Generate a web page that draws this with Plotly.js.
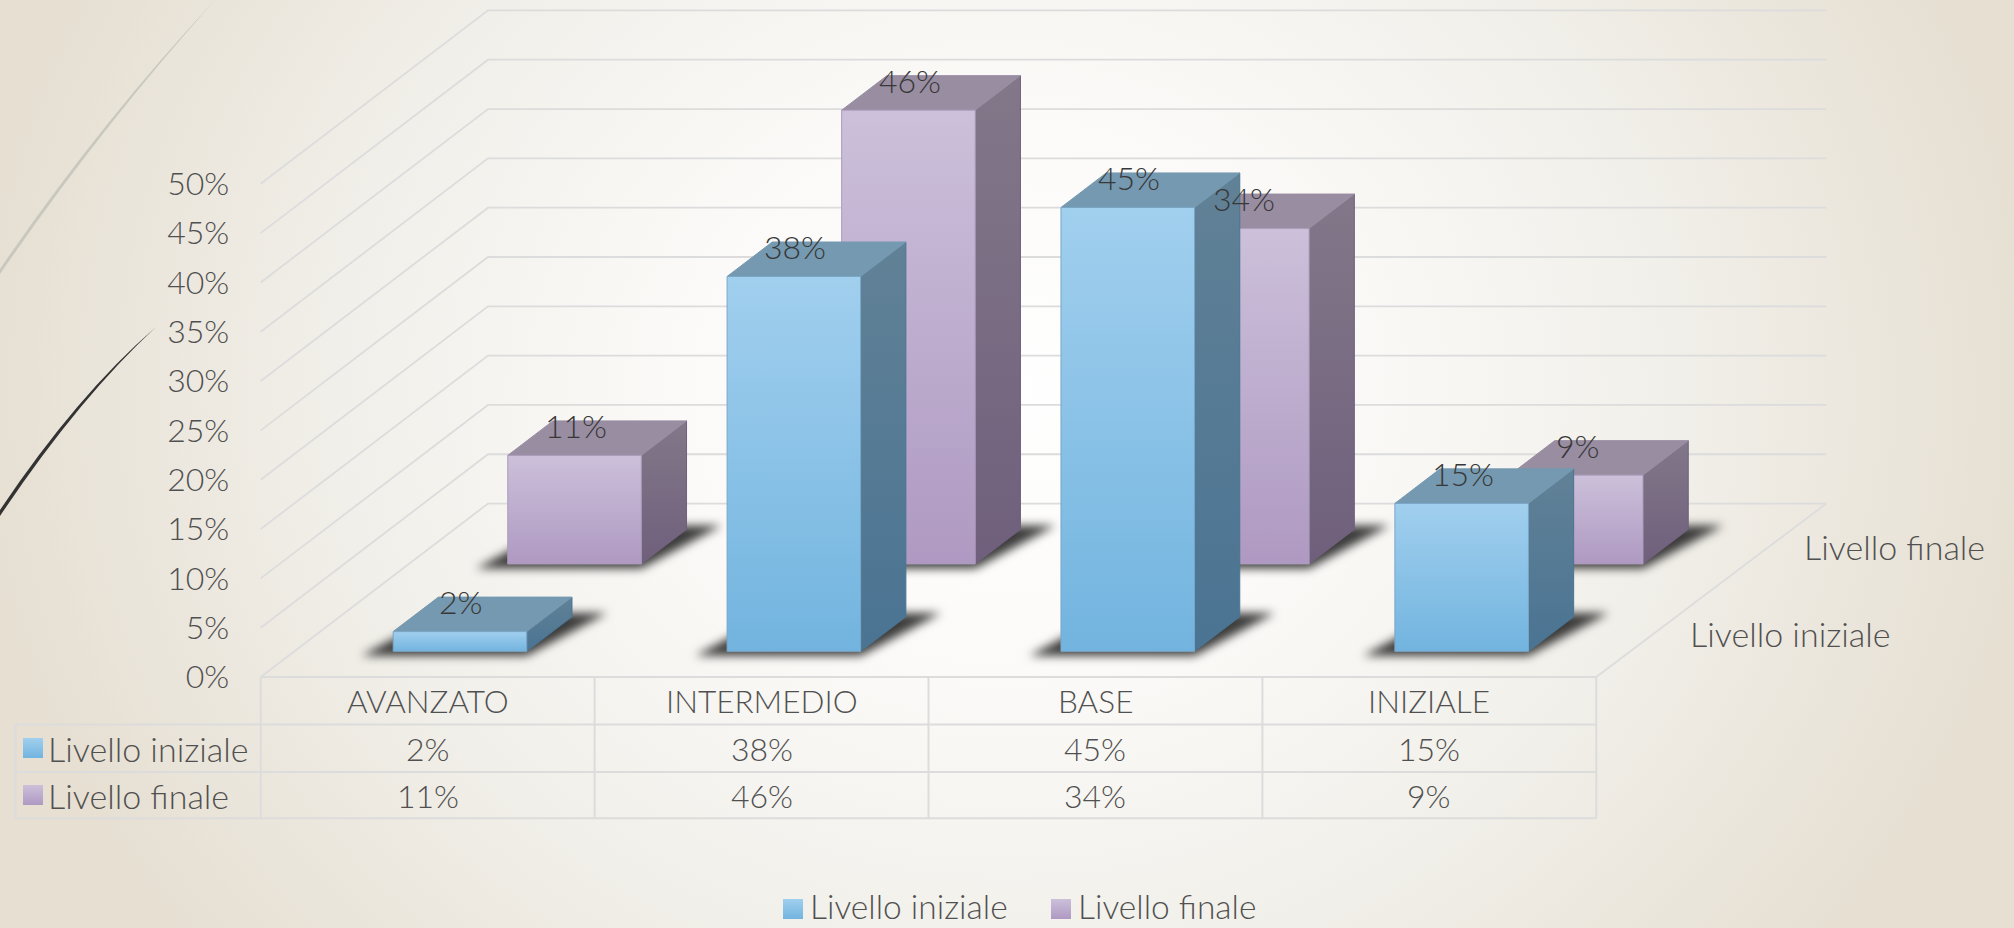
<!DOCTYPE html>
<html><head><meta charset="utf-8">
<script src="https://cdn.plot.ly/plotly-3.0.1.min.js"></script>
<style>
html,body{margin:0;padding:0;width:2014px;height:928px;overflow:hidden;
background:radial-gradient(ellipse 1090px 950px at 50% 42%,#ffffff 0%,#fbfaf8 30%,#f1efe9 62%,#e6dfd2 95%);}
#c{width:2014px;height:928px;}
</style></head><body><div id="c"></div>
<script>
// ---- data ----
const categories = ['AVANZATO','INTERMEDIO','BASE','INIZIALE'];
const seriesNames = ['Livello iniziale','Livello finale'];
const livelloIniziale = [2,38,45,15];
const livelloFinale = [11,46,34,9];
const yTicks = [0,5,10,15,20,25,30,35,40,45,50];

// ---- oblique projection (category units across, percent units up, depth 0..1 into the page) ----
const W=2014,H=928;
const pxPerCat=333.9, pxPerPct=9.864, x0Px=260.7, y0Px=677;
const DX=0.6808, DY=17.58;
const proj=(u,d,v)=>[u+d*DX, v+d*DY];
const FONT='Lato', TXT='#505050', GRID='#dcdcdc';
const traces=[];
function poly(pts){const x=[],y=[];pts.forEach(p=>{x.push(p[0]);y.push(p[1]);});x.push(pts[0][0]);y.push(pts[0][1]);return {x,y};}
function addFace(pts,fill,lineColor,grad){
  const p=poly(pts);
  const t={type:'scatter',mode:'lines',x:p.x,y:p.y,fill:'toself',hoverinfo:'skip',showlegend:false,
    line:{color:lineColor,width:1}};
  if(grad) t.fillgradient={type:'vertical',colorscale:[[0,grad[0]],[1,grad[1]]]};
  else t.fillcolor=fill;
  traces.push(t);
}
// gridlines on the two walls
(function(){
  const gx=[],gy=[];
  yTicks.forEach(v=>{
    const a=proj(0,0,v),b=proj(0,1,v),c=proj(4.008,1,v);
    gx.push(a[0],b[0],c[0],null);gy.push(a[1],b[1],c[1],null);
  });
  const a=proj(4,0,0),b=proj(4.008,1,0);gx.push(a[0],b[0],null);gy.push(a[1],b[1],null);
  traces.push({type:'scatter',mode:'lines',x:gx,y:gy,line:{color:GRID,width:1.8},hoverinfo:'skip',showlegend:false});
})();
// data table lines
const rowY=[0,-4.82,-9.63,-14.32], tableLeft=-0.7346;
(function(){
  const tx=[],ty=[];
  rowY.forEach((y,i)=>{tx.push(i==0?0:tableLeft,4,null);ty.push(y,y,null);});
  [0,1,2,3,4].forEach(u=>{tx.push(u,u,null);ty.push(rowY[0],rowY[3],null);});
  tx.push(tableLeft,tableLeft,null);ty.push(rowY[1],rowY[3],null);
  traces.push({type:'scatter',mode:'lines',x:tx,y:ty,line:{color:GRID,width:2},hoverinfo:'skip',showlegend:false});
})();
// bar geometry
const barL=0.296, barW=0.4;
const rowsD=[[0.148,0.347],[0.652,0.851]];
const values=[livelloIniziale,livelloFinale];
const palette=[
 {front:['#72b4df','#a1cfee'],side:['#4a7493','#618196'],top:'#7599b0',edge:'#7aa6c6'},
 {front:['#af99c2','#ccc0da'],side:['#6f5f7c','#827889'],top:'#998da2',edge:'#ab9dbb'}
];
// soft contact shadows: one footprint polygon per bar, blurred after drawing
const shadowIndex=traces.length;
(function(){
  const sx=[],sy=[];
  values.forEach((vals,s)=>{
    const [d0,d1]=rowsD[s];
    vals.forEach((_,i)=>{
      const u0=i+barL,u1=u0+barW;
      const off=-0.095, back=0.105, lift=-0.45, rise=0.4;
      const A=proj(u0,d0,lift),B=proj(u1,d0,lift),C=proj(u1,d1,rise),D=proj(u0,d1,rise);
      const pts=[[A[0]+off,A[1]],[B[0],B[1]],[C[0]+back,C[1]],[D[0]+off+back,D[1]]];
      pts.push(pts[0]);
      pts.forEach(p=>{sx.push(p[0]);sy.push(p[1]);});
      sx.push(null);sy.push(null);
    });
  });
  traces.push({type:'scatter',mode:'lines',x:sx,y:sy,fill:'toself',fillcolor:'rgba(40,40,40,0.9)',
    line:{width:0,color:'rgba(0,0,0,0)'},hoverinfo:'skip',showlegend:false});
})();
// bars, back row first
[1,0].forEach(s=>{
  const [d0,d1]=rowsD[s],c=palette[s];
  values[s].forEach((v,i)=>{
    const u0=i+barL,u1=u0+barW;
    addFace([proj(u1,d0,0),proj(u1,d1,0),proj(u1,d1,v),proj(u1,d0,v)],null,c.side[0],c.side);
    addFace([proj(u0,d0,v),proj(u1,d0,v),proj(u1,d1,v),proj(u0,d1,v)],c.top,c.top);
    addFace([proj(u0,d0,0),proj(u1,d0,0),proj(u1,d0,v),proj(u0,d0,v)],null,c.edge,c.front);
  });
});
// legend / table swatches
function swatch(cu,cy,wu,hy,s){
  addFace([[cu-wu/2,cy-hy/2],[cu+wu/2,cy-hy/2],[cu+wu/2,cy+hy/2],[cu-wu/2,cy+hy/2]],null,'rgba(0,0,0,0)',palette[s].front);
}
const pxX=x=>(x-x0Px)/pxPerCat, pxY=y=>(y0Px-y)/pxPerPct;
swatch(pxX(33),pxY(748),20/pxPerCat,20/pxPerPct,0);
swatch(pxX(33),pxY(795),20/pxPerCat,20/pxPerPct,1);
swatch(pxX(793),pxY(909),20/pxPerCat,20/pxPerPct,0);
swatch(pxX(1061),pxY(909),20/pxPerCat,20/pxPerPct,1);

// text
const ann=[];
function label(x,y,text,anchor,color,size){
  ann.push({x,y,text,xref:'x',yref:'y',showarrow:false,xanchor:anchor||'center',yanchor:'middle',
    font:{family:FONT,size:size||34,color:color||TXT,weight:300}});
}
categories.forEach((c,i)=>{
  label(i+0.5,(rowY[0]+rowY[1])/2,c,null,null,31.5);
  label(i+0.5,(rowY[1]+rowY[2])/2,livelloIniziale[i]+'%',null,null,32);
  label(i+0.5,(rowY[2]+rowY[3])/2,livelloFinale[i]+'%',null,null,32);
});
label(pxX(46),(rowY[1]+rowY[2])/2,seriesNames[0],'left');
label(pxX(46),(rowY[2]+rowY[3])/2,seriesNames[1],'left');
label(pxX(808),pxY(906),seriesNames[0],'left',null,33.5);
label(pxX(1076),pxY(906),seriesNames[1],'left',null,33.5);
label(proj(4.0,0.25,0)[0]+0.105,proj(4,0.25,0)[1],seriesNames[0],'left');
label(proj(4.0,0.75,0)[0]+0.105,proj(4,0.75,0)[1],seriesNames[1],'left');
// value labels above each bar
values.forEach((vals,s)=>{
  vals.forEach((v,i)=>{
    const p=proj(i+0.5,rowsD[s][0],v);
    label(p[0],p[1]+3.05,v+'%',null,'#383838',32);
  });
});

// decorative curves of the slide
const P=(x,y)=>(x/W).toFixed(5)+','+(1-y/H).toFixed(5);
const curve=(a,c,b,c2,b2,col)=>({type:'path',xref:'paper',yref:'paper',layer:'below',line:{width:0},fillcolor:col,
  path:`M${P(a[0],a[1])} Q${P(c[0],c[1])} ${P(b[0],b[1])} L${P(b2[0],b2[1])} Q${P(c2[0],c2[1])} ${P(a[0],a[1])} Z`});
const shapes=[
  curve([216,-1],[99,124],[0,269],[101,127],[0,274],'#c9c8bf'),
  curve([156,327],[77,395],[0,510],[79,398],[0,516],'#333333')
];

const layout={
  width:W,height:H,margin:{l:0,r:0,t:0,b:0,pad:0},
  paper_bgcolor:'rgba(0,0,0,0)',plot_bgcolor:'rgba(0,0,0,0)',
  showlegend:false,hovermode:false,
  xaxis:{visible:false,fixedrange:true,range:[-x0Px/pxPerCat,(W-x0Px)/pxPerCat]},
  yaxis:{fixedrange:true,range:[(y0Px-H)/pxPerPct,y0Px/pxPerPct],anchor:'free',position:x0Px/W,
    tickmode:'array',tickvals:yTicks,ticktext:yTicks.map(v=>v+'%'),
    showgrid:false,zeroline:false,showline:false,ticks:'outside',ticklen:25,tickcolor:'rgba(0,0,0,0)',
    tickfont:{family:FONT,size:32,color:TXT,weight:300}},
  annotations:ann,shapes
};
Plotly.newPlot('c',traces,layout,{displayModeBar:false,staticPlot:true}).then(()=>{
  const el=document.querySelectorAll('#c .scatterlayer .trace')[shadowIndex];
  if(el) el.style.filter='blur(5px)';
});
</script></body></html>
